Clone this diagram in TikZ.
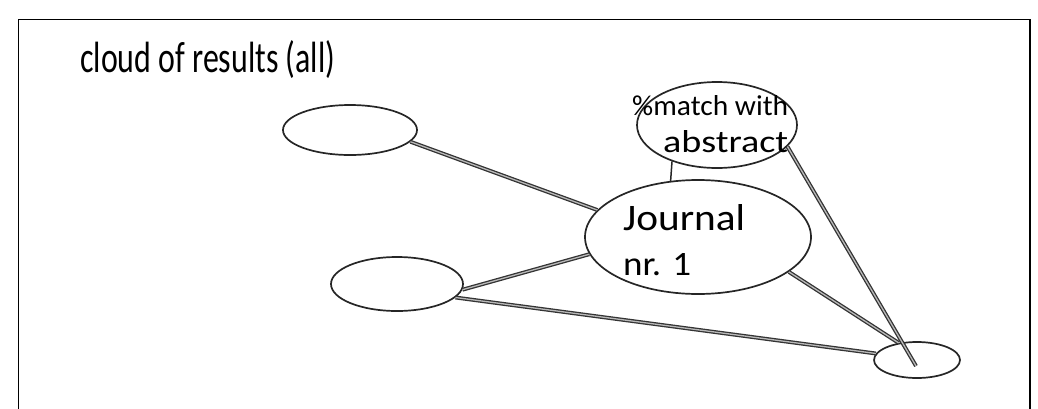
\documentclass[tikz,border=0pt]{standalone}
\usepackage{fontspec}
\usepackage{graphicx}
\setmainfont{Carlito}
\usetikzlibrary{shapes.geometric}
\newcommand{\fitbox}[3]{\resizebox{#1pt}{#2pt}{#3}}
\begin{document}
\begin{tikzpicture}[x=1pt,y=-1pt,
  bub/.style={draw=black!85, line width=1.7pt, ellipse, inner sep=0pt},
  link/.style={draw=black!80, line width=1.3pt, double=gray!55, double distance=1.3pt},
  plain/.style={draw=black!85, line width=1.5pt},
  lbl/.style={inner sep=0pt, anchor=base west}]
\useasboundingbox (0,0) rectangle (1038,408);
\draw[line width=1.5pt] (18.5,420) -- (18.5,19.5) -- (1030,19.5) -- (1030,420);

\node[lbl] (title) at (80,72) {\fitbox{255}{32}{cloud of results (all)}};

\node[bub, minimum width=134pt, minimum height=50pt] (E1) at (350,130) {};
\node[bub, minimum width=132pt, minimum height=54pt] (E2) at (397,284) {};
\node[bub, minimum width=226pt, minimum height=114pt] (J) at (698,237) {};
\node[bub, minimum width=160pt, minimum height=86pt] (M) at (717,125) {};
\node[bub, minimum width=86pt, minimum height=36pt] (S) at (917,360) {};
\coordinate (Sin) at (916,366);

\node[lbl] (j1) at (623,230) {\fitbox{122}{26}{Journal}};
\node[lbl] (j2) at (623,275) {\fitbox{68}{22}{nr. 1}};
\node[lbl] (m1) at (632,115) {\fitbox{156}{20}{\%match with}};
\node[lbl] (m2) at (663,152) {\fitbox{125}{22}{abstract}};

\draw[link] (E1.-11) -- (J.165);
\draw[plain] (M.-141) -- (J.116);
\draw[link] (M.-17) -- (Sin);
\draw[link] (E2.-5) -- (J.-171);
\draw[link] (E2.-13) -- (S.171);
\draw[link] (J.-21) -- (S.137);
\end{tikzpicture}
\end{document}
